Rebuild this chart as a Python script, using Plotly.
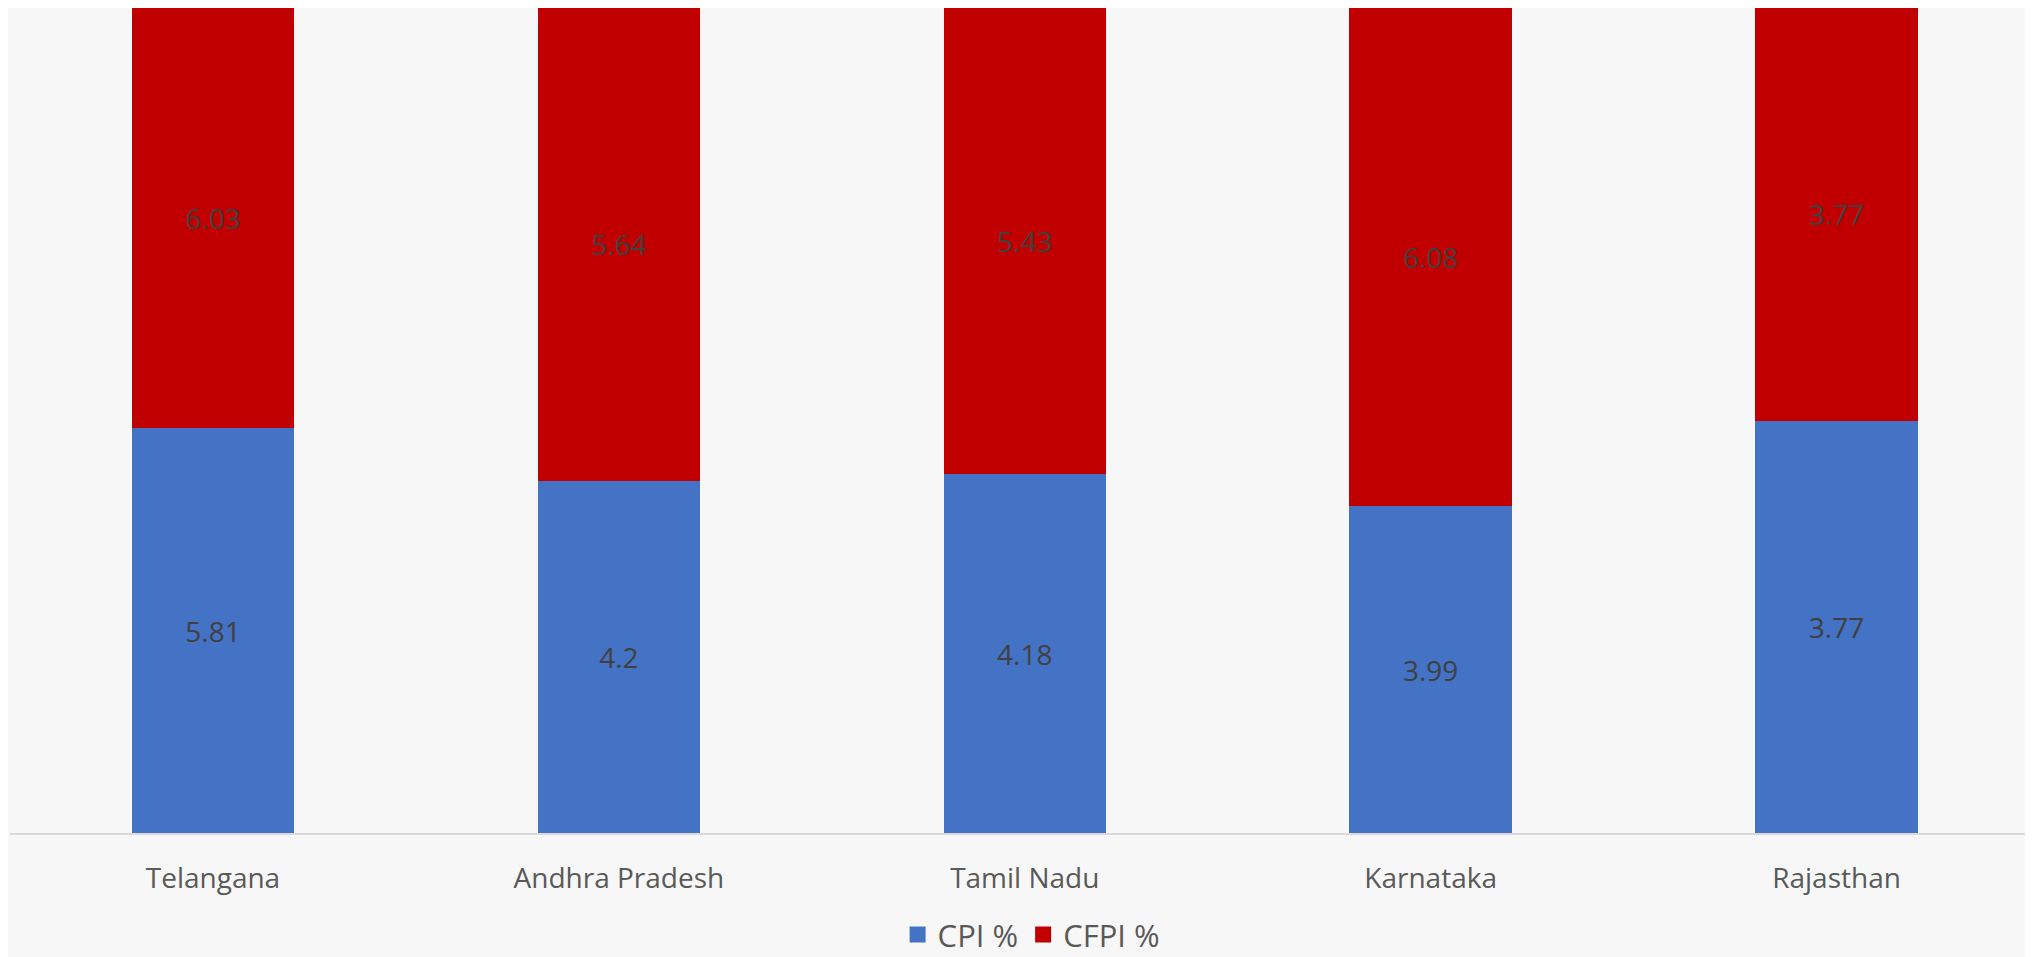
import plotly.graph_objects as go

states = ["Telangana", "Andhra Pradesh", "Tamil Nadu", "Karnataka", "Rajasthan"]
cpi = [5.81, 4.2, 4.18, 3.99, 3.77]
cfpi = [6.03, 5.64, 5.43, 6.08, 3.77]
series_names = ["CPI %", "CFPI %"]
colors = ["#4472C4", "#C00000"]

fig = go.Figure()
for name, vals, col in zip(series_names, [cpi, cfpi], colors):
    fig.add_trace(go.Bar(
        name=name, x=states, y=vals, marker=dict(color=col, line=dict(width=0)),
        text=[str(v) for v in vals], textposition="inside", insidetextanchor="middle",
        textfont=dict(color="#404040", size=28, family="Open Sans"), width=0.4,
        showlegend=False, textangle=0,
    ))
# legend-only entries with square markers
for name, col in zip(series_names, colors):
    fig.add_trace(go.Scatter(
        name=name, x=[None], y=[None], mode="markers",
        marker=dict(symbol="square", size=21, color=col), showlegend=True,
    ))

fig.update_layout(
    width=2025, height=949,
    barmode="stack", barnorm="percent",
    paper_bgcolor="#f7f7f7", plot_bgcolor="#f7f7f7",
    margin=dict(l=2, r=0, t=0, b=124, autoexpand=False),
    font=dict(family="Open Sans", color="#595959", size=28),
    legend=dict(orientation="h", x=0.505, xanchor="center", y=-0.1236, yanchor="middle",
                font=dict(size=31, color="#595959"), traceorder="normal",
                itemwidth=30, bgcolor="rgba(0,0,0,0)"),
    showlegend=True,
)
fig.update_xaxes(showline=True, linecolor="#d9d9d9", linewidth=2, ticks="",
                 tickfont=dict(size=28, color="#595959"), ticklabelstandoff=19,
                 showgrid=False, range=[-0.5, 4.484], zeroline=False)
fig.update_yaxes(visible=False, range=[0, 100], showgrid=False, zeroline=False)

fig.write_html("out.html")
